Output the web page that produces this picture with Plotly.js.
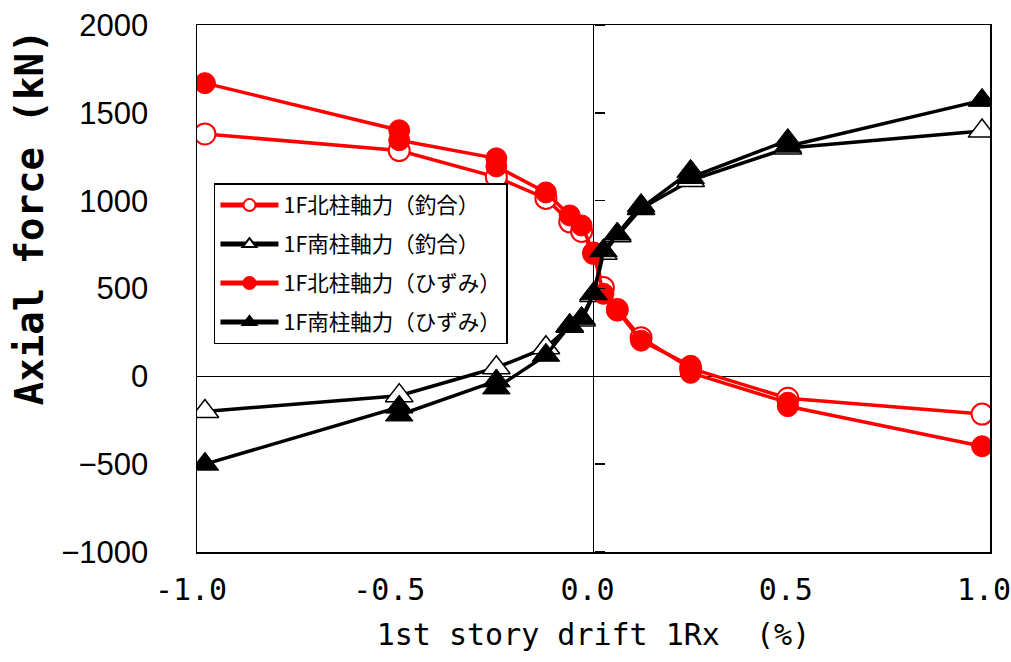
<!DOCTYPE html>
<html>
<head>
<meta charset="utf-8">
<script src="https://cdn.plot.ly/plotly-3.0.1.min.js"></script>
<style>
  html, body { margin: 0; padding: 0; background: #ffffff; }
  #chart { width: 1011px; height: 662px; }
</style>
</head>
<body>
<div id="chart"></div>
<script>
// ---- Data ----
const seriesNames = [
  "1F北柱軸力（釣合）",
  "1F南柱軸力（釣合）",
  "1F北柱軸力（ひずみ）",
  "1F南柱軸力（ひずみ）"
];

// 1st story drift (%) for the equilibrium-based series
const driftEq = [-0.98, -0.49, -0.245, -0.12, -0.06, -0.03, 0.0, 0.025, 0.06, 0.12, 0.245, 0.49, 0.98];
// 1F north column axial force, equilibrium (kN)
const northEq = [1380, 1285, 1134, 1013, 880, 825, 700, 505, 380, 220, 45, -125, -215];
// 1F south column axial force, equilibrium (kN)
const southEq = [-200, -110, 49, 163, 285, 320, 460, 700, 800, 955, 1115, 1300, 1396];

// drift (%) for the strain-based north series
const driftStrainN = [-0.98, -0.49, -0.49, -0.245, -0.245, -0.12, -0.06, -0.03, 0.0, 0.025, 0.06, 0.12, 0.245, 0.245, 0.49, 0.49, 0.98];
// 1F north column axial force, strain-based (kN)
const northStrain = [1669, 1401, 1344, 1241, 1195, 1047, 916, 859, 705, 470, 374, 203, 60, 20, -150, -170, -398];

// drift (%) for the strain-based south series
const driftStrainS = [-0.98, -0.49, -0.49, -0.245, -0.245, -0.12, -0.06, -0.03, 0.0, 0.025, 0.06, 0.12, 0.12, 0.245, 0.245, 0.49, 0.49, 0.98];
// 1F south column axial force, strain-based (kN)
const southStrain = [-500, -175, -220, -26, -66, 120, 290, 330, 470, 715, 810, 973, 958, 1167, 1132, 1343, 1310, 1571];

// Axis ticks
const xTickVals = [-1.0, -0.5, 0.0, 0.5, 1.0];
const xTickText = ["-1.0", "-0.5", "0.0", "0.5", "1.0"];
const yTickVals = [-1000, -500, 0, 500, 1000, 1500, 2000];
const yTickText = ["\u22121000", "\u2212500", "0", "500", "1000", "1500", "2000"];

const xTitle = "1st story drift 1Rx  (%)";
const yTitle = "Axial force (kN)";

// ---- Styling ----
const RED = "#ff0000";
const BLACK = "#000000";
const LW = 3.5;
const MS = 21;

const traces = [
  {
    x: driftEq, y: northEq, name: seriesNames[0], mode: "lines+markers",
    legendgroup: "g1",
    line: { color: RED, width: LW },
    marker: { symbol: "circle", size: MS, color: "#ffffff", line: { color: RED, width: 2 } }
  },
  {
    x: driftEq, y: southEq, name: seriesNames[1], mode: "lines+markers",
    legendgroup: "g2",
    line: { color: BLACK, width: LW },
    marker: { symbol: "triangle-up", size: MS + 3, color: "#ffffff", line: { color: BLACK, width: 1.5 } }
  },
  {
    x: driftStrainN, y: northStrain, name: seriesNames[2], mode: "lines+markers",
    legendgroup: "g3",
    line: { color: RED, width: LW },
    marker: { symbol: "circle", size: MS, color: RED, line: { color: RED, width: 1 } }
  },
  {
    x: driftStrainS, y: southStrain, name: seriesNames[3], mode: "lines+markers",
    legendgroup: "g4",
    line: { color: BLACK, width: LW },
    marker: { symbol: "triangle-up", size: MS + 3, color: BLACK, line: { color: BLACK, width: 1 } }
  },
  // empty trace so that the tick-only axis at x = 0 is attached to a subplot
  { x: [], y: [], yaxis: "y2", showlegend: false, hoverinfo: "skip", mode: "markers" }
];

const layout = {
  width: 1011,
  height: 662,
  paper_bgcolor: "#ffffff",
  plot_bgcolor: "#ffffff",
  margin: { l: 197, r: 21, t: 25, b: 110 },
  showlegend: true,
  legend: {
    x: 0.0214, y: 0.700, xanchor: "left", yanchor: "top",
    bgcolor: "#ffffff", bordercolor: "#000000", borderwidth: 1.5,
    font: { family: "Noto Sans CJK JP", size: 21.5, color: "#000000" },
    itemsizing: "constant",
    tracegroupgap: 8,
    itemwidth: 58
  },
  xaxis: {
    range: [-1, 1],
    tickvals: xTickVals, ticktext: xTickText,
    ticks: "", showgrid: false,
    showline: true, mirror: true, linecolor: "#000000", linewidth: 1.5,
    zeroline: true, zerolinecolor: "#000000", zerolinewidth: 1.5,
    tickfont: { family: "DejaVu Sans Mono", size: 30, color: "#000000" },
    ticklabelstandoff: 10,
    ticklabelshift: -6,
    ticklabeloverflow: "allow",
    title: { text: xTitle, font: { family: "DejaVu Sans Mono", size: 30, color: "#000000" }, standoff: 18 }
  },
  yaxis: {
    range: [-1000, 2000],
    tickvals: yTickVals, ticktext: yTickText,
    ticks: "", showgrid: false,
    showline: true, mirror: true, linecolor: "#000000", linewidth: 1.5,
    zeroline: true, zerolinecolor: "#000000", zerolinewidth: 1.5,
    tickfont: { family: "Liberation Sans", size: 31, color: "#000000" },
    ticklabelstandoff: 41
  },
  yaxis2: {
    overlaying: "y", matches: "y", anchor: "free", position: 0.5, side: "right",
    range: [-1000, 2000],
    tickvals: yTickVals,
    ticks: "outside", ticklen: 10, tickwidth: 1.5, tickcolor: "#000000",
    showticklabels: false, showline: false, showgrid: false, zeroline: false
  },
  annotations: [
    {
      text: yTitle, textangle: -90,
      xref: "paper", yref: "paper", x: -0.212, y: 0.635,
      xanchor: "center", yanchor: "middle", showarrow: false,
      font: { family: "DejaVu Sans Mono", size: 39, color: "#000000", weight: "bold" }
    }
  ]
};

Plotly.newPlot("chart", traces, layout, { displayModeBar: false, staticPlot: true });
</script>
</body>
</html>
